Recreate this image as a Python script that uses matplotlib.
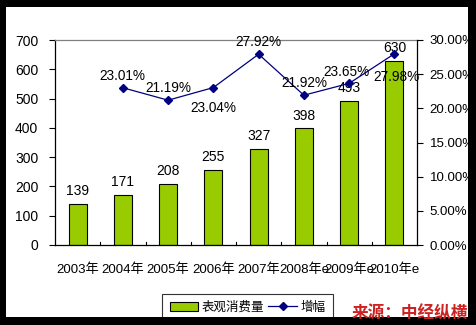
import matplotlib
matplotlib.use("Agg")
import matplotlib.pyplot as plt
from matplotlib.patches import Rectangle
from matplotlib.lines import Line2D
import numpy as np

plt.rcParams['font.family'] = ['Liberation Sans', 'Noto Sans CJK SC']

years = ["2003年", "2004年", "2005年", "2006年", "2007年", "2008年e", "2009年e", "2010年e"]
consumption = [139, 171, 208, 255, 327, 398, 493, 630]
growth = [None, 23.01, 21.19, 23.04, 27.92, 21.92, 23.65, 27.98]
growth_labels = ["", "23.01%", "21.19%", "23.04%", "27.92%", "21.92%", "23.65%", "27.98%"]

W, H = 476, 325
fig = plt.figure(figsize=(W / 100, H / 100), dpi=100, facecolor="white")


def frame_bar(x0, y0, x1, y1):
    # black frame strip in pixel coordinates (origin top-left)
    fig.patches.append(Rectangle((x0 / W, 1 - y1 / H), (x1 - x0) / W, (y1 - y0) / H,
                                 transform=fig.transFigure, facecolor="black",
                                 edgecolor="none", zorder=50))


frame_bar(0, 0, W, 7)
frame_bar(0, 317, W, H)
frame_bar(0, 0, 6, H)
frame_bar(468, 0, W, H)

left, right, top, bottom = 55, 417, 40, 245
ax = fig.add_axes([left / W, 1 - bottom / H, (right - left) / W, (bottom - top) / H])
ax.set_facecolor("white")
x = np.arange(len(years))
bar_color = "#99cc00"
ax.bar(x, consumption, width=0.4, color=bar_color, edgecolor="black", linewidth=0.8, zorder=2)
ax.set_xlim(-0.5, len(years) - 0.5)
ax.set_ylim(0, 700)
ax.set_yticks(range(0, 701, 100))
ax.tick_params(axis="y", direction="out", length=4, labelsize=10, pad=8)
ax.set_xticks(x)
ax.set_xticklabels(years, fontsize=9.5)
ax.tick_params(axis="x", length=0, pad=13)
for b in np.arange(0.5, len(years) - 0.5, 1.0):
    ax.plot([b, b], [0, 10], color="black", lw=0.8, clip_on=False, zorder=3)
for s in ["left", "bottom"]:
    ax.spines[s].set_color("black")
    ax.spines[s].set_linewidth(0.9)
ax.spines["top"].set_color("#808080")
ax.spines["top"].set_linewidth(0.9)
ax.spines["right"].set_visible(False)

for xi, v in zip(x, consumption):
    ax.text(xi, v + 20, str(v), ha="center", va="bottom", fontsize=10, zorder=5)

ax2 = ax.twinx()
ax2.set_ylim(0, 30)
ax2.set_yticks(np.arange(0, 30.01, 5))
ax2.set_yticklabels([f"{v:.2f}%" for v in np.arange(0, 30.01, 5)])
ax2.tick_params(axis="y", direction="out", length=4, labelsize=9.5, pad=5)
ax2.spines["right"].set_color("black")
ax2.spines["right"].set_linewidth(0.9)
for s in ["left", "top", "bottom"]:
    ax2.spines[s].set_visible(False)

gx = [xi for xi, g in zip(x, growth) if g is not None]
gy = [g for g in growth if g is not None]
line_color = "#000080"
ax2.plot(gx, gy, color=line_color, lw=0.9, marker="D", markersize=4, zorder=4)

offsets = {1: (0, 0.7, "bottom"), 2: (0, 0.7, "bottom"), 3: (0, -2.0, "top"),
           4: (0, 0.7, "bottom"), 5: (0, 0.7, "bottom"), 6: (-0.05, 0.7, "bottom"),
           7: (0.05, -2.3, "top")}
for i, lab in enumerate(growth_labels):
    if not lab:
        continue
    dx, dy, va = offsets[i]
    ax2.text(i + dx, growth[i] + dy, lab, ha="center", va=va, fontsize=9.8, zorder=5)

handles = [Rectangle((0, 0), 1, 1, facecolor=bar_color, edgecolor="black", linewidth=0.8),
           Line2D([0], [0], color=line_color, lw=0.9, marker="D", markersize=4)]
leg = fig.legend(handles, ["表观消费量", "增幅"], loc="upper left",
                 bbox_to_anchor=(162 / W, 1 - 294 / H), ncol=2, frameon=True,
                 fontsize=9, fancybox=False, borderpad=0.6, handlelength=2.3,
                 handleheight=0.8, handletextpad=0.3, columnspacing=0.3,
                 borderaxespad=0)
leg.get_frame().set_edgecolor("black")
leg.get_frame().set_linewidth(0.8)
leg.set_zorder(10)

fig.text(468 / W, 1 - 313 / H, "来源：中经纵横", ha="right", va="center",
         color="#cc2222", fontsize=12, fontweight="bold",
         family=["Noto Sans CJK SC"], zorder=60)

fig.savefig("out.png", dpi=100, facecolor="white")
